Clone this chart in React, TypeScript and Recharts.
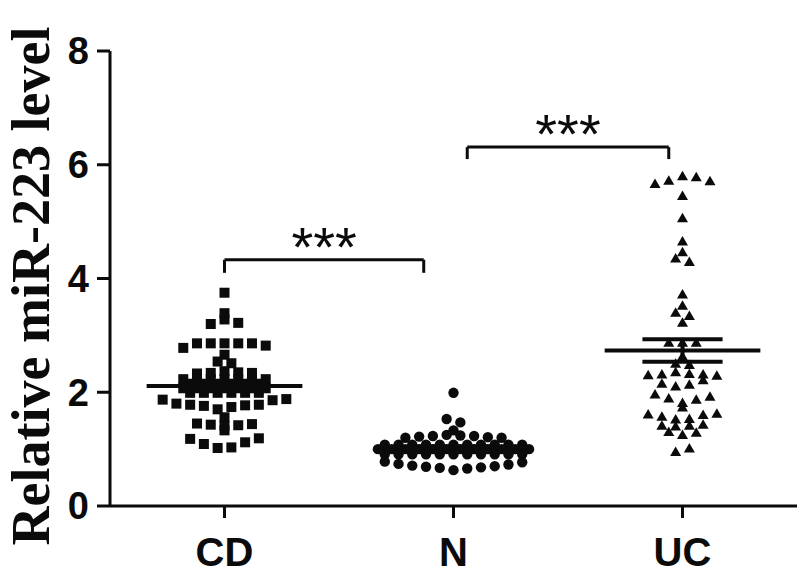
import React from 'react';
import {
  ScatterChart,
  Scatter,
  XAxis,
  YAxis,
  ReferenceLine,
} from 'recharts';

// categories on the x axis
const groups = ['CD', 'N', 'UC'];
const yTicks = [0, 2, 4, 6, 8];

// relative miR-223 level per patient
const cdValues = [
  3.75, 3.39, 3.28, 3.22, 3.2, 2.86, 2.86, 2.86, 2.86, 2.86, 2.82, 2.78, 2.66,
  2.54, 2.51, 2.37, 2.35, 2.34, 2.34, 2.33,
  2.23, 2.23, 2.23, 2.23, 2.23, 2.23, 2.23,
  2.15, 2.15, 2.15, 2.15, 2.15, 2.15,
  2.07, 2.07, 2.07, 2.07, 2.07, 2.07, 2.07,
  1.99, 1.99, 1.99, 1.99, 1.99, 1.99,
  1.88, 1.87, 1.86, 1.8, 1.78, 1.78, 1.77, 1.76, 1.74, 1.7,
  1.56, 1.45, 1.44, 1.43, 1.42, 1.41, 1.33,
  1.19, 1.18, 1.12, 1.09, 1.03, 1.02,
];

const nValues = [
  1.99, 1.53, 1.47, 1.33,
  1.25, 1.24, 1.23, 1.23, 1.22, 1.21, 1.2, 1.2,
  1.08, 1.08, 1.08, 1.08, 1.08, 1.08, 1.08, 1.08, 1.08, 1.08, 1.08,
  1.0, 1.0, 1.0, 1.0, 1.0, 1.0, 1.0, 1.0, 1.0, 1.0, 1.0, 1.0,
  0.91, 0.91, 0.91, 0.91, 0.91, 0.91, 0.91, 0.91, 0.91, 0.91, 0.91,
  0.78, 0.77, 0.74, 0.73, 0.71, 0.7, 0.69, 0.68, 0.67, 0.66, 0.63,
];

const ucValues = [
  5.8, 5.78, 5.72, 5.71, 5.66, 5.45, 5.06, 4.65, 4.46, 4.35, 4.29,
  3.72, 3.52, 3.4, 3.34, 3.22, 2.87, 2.87, 2.87, 2.63, 2.5, 2.48,
  2.35, 2.32, 2.31, 2.31, 2.3, 2.29, 2.21, 2.15, 2.13, 2.1,
  1.96, 1.92, 1.89, 1.87, 1.81, 1.73,
  1.62, 1.61, 1.6, 1.57, 1.53, 1.52,
  1.43, 1.41, 1.41, 1.4, 1.3, 1.29, 1.25, 1.01, 0.95,
];

// significance brackets (x in group positions, y in data units)
const brackets = [
  { from: 0, to: 0.87, top: 4.33, foot: 4.1, label: '***' },
  { from: 1.06, to: 1.94, top: 6.31, foot: 6.1, label: '***' },
];

const INK = '#0b0b0b';
const STEP = 0.06; // horizontal spacing between swarm columns, in group units
const ROW_GAP = 0.07;

// simple column-scatter layout: values that sit close together share a row
// and are spread sideways around the group centre
function swarm(values: number[], center: number) {
  const sorted = [...values].sort((a, b) => b - a);
  const median = sorted[Math.floor(sorted.length / 2)];
  const rows: number[][] = [];
  sorted.forEach((v) => {
    const row = rows[rows.length - 1];
    if (row && row[row.length - 1] - v < ROW_GAP) row.push(v);
    else rows.push([v]);
  });
  const pts: { x: number; y: number }[] = [];
  rows.forEach((row) => {
    const ordered = row[0] > median ? row : [...row].reverse();
    const shift = ordered.length % 2 === 0 ? 0.5 : 0;
    ordered.forEach((v, i) => {
      const slot = i === 0 ? 0 : i % 2 === 1 ? (i + 1) / 2 : -i / 2;
      pts.push({ x: center + (slot - shift) * STEP, y: v });
    });
  });
  return pts;
}

function meanSem(values: number[]) {
  const n = values.length;
  const mean = values.reduce((s, v) => s + v, 0) / n;
  const sd = Math.sqrt(values.reduce((s, v) => s + (v - mean) ** 2, 0) / (n - 1));
  return { mean, sem: sd / Math.sqrt(n) };
}

const SquareDot = (p: any) => (
  <rect x={p.cx - 5} y={p.cy - 5} width={10} height={10} fill={INK} />
);
const RoundDot = (p: any) => <circle cx={p.cx} cy={p.cy} r={5.2} fill={INK} />;
const TriDot = (p: any) => (
  <polygon
    points={`${p.cx},${p.cy - 5.5} ${p.cx + 5.5},${p.cy + 4} ${p.cx - 5.5},${p.cy + 4}`}
    fill={INK}
  />
);

const series = [
  { values: cdValues, shape: SquareDot },
  { values: nValues, shape: RoundDot },
  { values: ucValues, shape: TriDot },
];

export default function App() {
  const tickFont = {
    fill: INK,
    fontFamily: '"Liberation Sans", Arial, sans-serif',
    fontWeight: 'bold',
  };

  return (
    <div style={{ position: 'absolute', left: 0, top: 0, width: 800, height: 579, background: '#fff' }}>
      <ScatterChart width={800} height={579} margin={{ top: 51, right: 3, bottom: 0, left: 0 }}>
        <XAxis
          type="number"
          dataKey="x"
          domain={[-0.5, 2.5]}
          ticks={[0, 1, 2]}
          interval={0}
          tickFormatter={(v) => groups[v] ?? ''}
          axisLine={{ stroke: INK, strokeWidth: 3 }}
          tickLine={{ stroke: INK, strokeWidth: 3 }}
          tickSize={12}
          tickMargin={20}
          height={73}
          tick={{ ...tickFont, fontSize: 40 }}
        />
        <YAxis
          type="number"
          dataKey="y"
          domain={[0, 8]}
          ticks={yTicks}
          interval={0}
          width={110}
          axisLine={{ stroke: INK, strokeWidth: 3 }}
          tickLine={{ stroke: INK, strokeWidth: 3 }}
          tickSize={13}
          tickMargin={8}
          tick={{ ...tickFont, fontSize: 38 }}
        />

        {series.map((s, i) => (
          <Scatter
            key={groups[i]}
            name={groups[i]}
            data={swarm(s.values, i)}
            shape={s.shape}
            isAnimationActive={false}
          />
        ))}

        {series.map((s, i) => {
          const { mean, sem } = meanSem(s.values);
          return (
            <React.Fragment key={'stat' + i}>
              <ReferenceLine
                segment={[{ x: i - 0.34, y: mean }, { x: i + 0.34, y: mean }]}
                stroke={INK}
                strokeWidth={4}
              />
              <ReferenceLine
                segment={[{ x: i - 0.175, y: mean + sem }, { x: i + 0.175, y: mean + sem }]}
                stroke={INK}
                strokeWidth={4}
              />
              <ReferenceLine
                segment={[{ x: i - 0.175, y: mean - sem }, { x: i + 0.175, y: mean - sem }]}
                stroke={INK}
                strokeWidth={4}
              />
              <ReferenceLine
                segment={[{ x: i, y: mean - sem }, { x: i, y: mean + sem }]}
                stroke={INK}
                strokeWidth={4}
              />
            </React.Fragment>
          );
        })}

        {brackets.map((b, i) => (
          <React.Fragment key={'br' + i}>
            <ReferenceLine
              segment={[{ x: b.from, y: b.top }, { x: b.to, y: b.top }]}
              stroke={INK}
              strokeWidth={3}
              label={{
                value: b.label,
                position: 'top',
                offset: -6,
                fill: INK,
                fontSize: 56,
                fontFamily: '"Liberation Sans", Arial, sans-serif',
              }}
            />
            <ReferenceLine
              segment={[{ x: b.from, y: b.foot }, { x: b.from, y: b.top }]}
              stroke={INK}
              strokeWidth={3}
            />
            <ReferenceLine
              segment={[{ x: b.to, y: b.foot }, { x: b.to, y: b.top }]}
              stroke={INK}
              strokeWidth={3}
            />
          </React.Fragment>
        ))}
      </ScatterChart>

      <svg
        width={800}
        height={579}
        style={{ position: 'absolute', left: 0, top: 0, pointerEvents: 'none' }}
      >
        <text
          transform="translate(49,286) rotate(-90)"
          textAnchor="middle"
          fill={INK}
          fontSize={54}
          fontWeight="bold"
          fontFamily='"Liberation Serif", "Times New Roman", serif'
        >
          Relative miR-223 level
        </text>
      </svg>
    </div>
  );
}
